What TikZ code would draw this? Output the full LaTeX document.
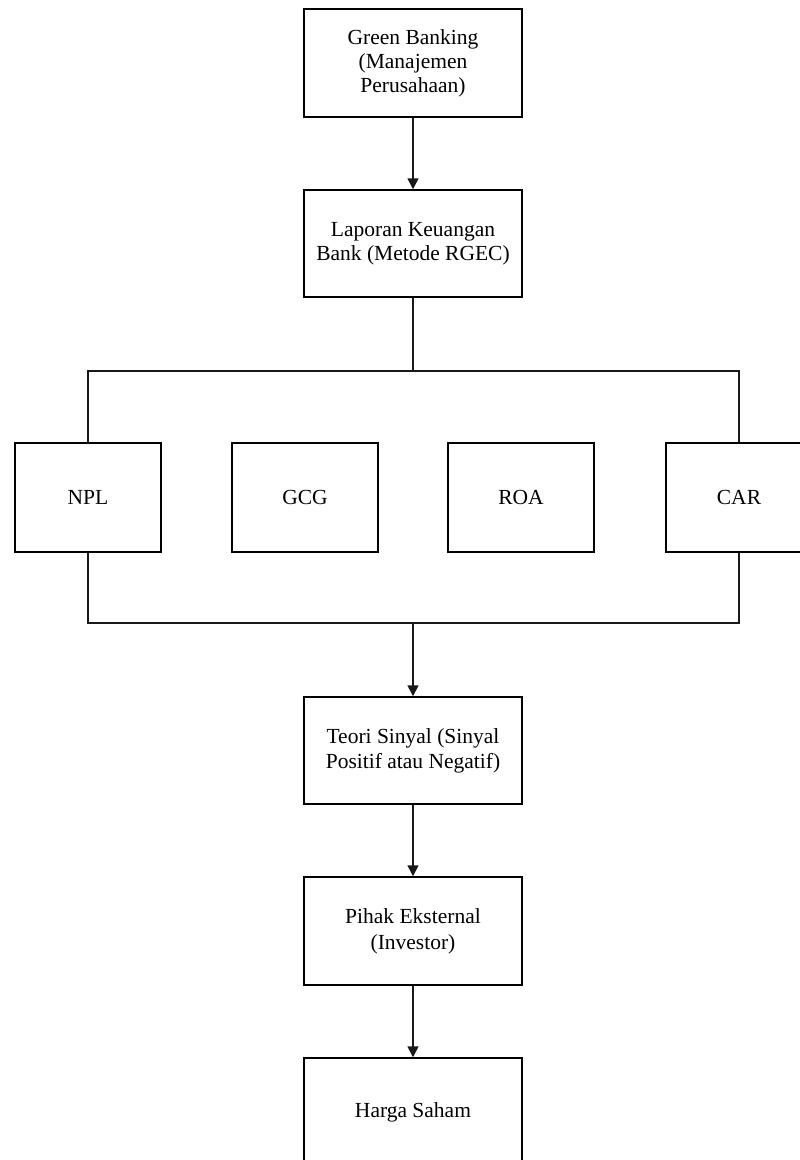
\documentclass[tikz,border=0pt]{standalone}
\usepackage{fontspec}
\setmainfont{Liberation Serif}
\usetikzlibrary{arrows.meta}
\tikzset{
  box/.style={draw=black, line width=1.5pt, fill=white, inner sep=0pt, align=center,
    font=\fontsize{21.5}{24}\selectfont, minimum width=218pt, minimum height=107pt},
  smallbox/.style={box, minimum width=146pt, minimum height=109pt},
  link/.style={draw=black!90, line width=1.6pt},
  arrowlink/.style={link, -{Triangle[width=11pt,length=11pt]}},
}
\begin{document}
\begin{tikzpicture}[x=1pt,y=-1pt]
\clip (0,0) rectangle (800,1160);
\fill[white] (0,0) rectangle (800,1160);
\node[box, minimum height=108pt] (green) at (413,63) {Green Banking\\(Manajemen\\Perusahaan)};
\node[box] (lap) at (413,243.5) {Laporan Keuangan\\Bank (Metode RGEC)};
\node[smallbox] (npl) at (88,497.5) {NPL};
\node[smallbox] (gcg) at (305,497.5) {GCG};
\node[smallbox] (roa) at (521,497.5) {ROA};
\node[smallbox] (car) at (739,497.5) {CAR};
\node[box, font=\fontsize{21.5}{25}\selectfont] (teori) at (413,750.5) {Teori Sinyal (Sinyal\\Positif atau Negatif)};
\node[box, minimum height=108pt, font=\fontsize{21.5}{26}\selectfont] (pihak) at (413,931) {Pihak Eksternal\\(Investor)};
\node[box, minimum height=108pt] (harga) at (413,1112) {Harga Saham};
\coordinate (ytop) at (0,371);
\coordinate (ybot) at (0,623);
\draw[arrowlink] (green.south) -- (lap.north);
\draw[link] (lap.south) -- (lap.south |- ytop);
\draw[link] (npl.north) -- (npl.north |- ytop) -- (car.north |- ytop) -- (car.north);
\draw[link] (npl.south) -- (npl.south |- ybot) -- (car.south |- ybot) -- (car.south);
\draw[arrowlink] (teori.north |- ybot) -- (teori.north);
\draw[arrowlink] (teori.south) -- (pihak.north);
\draw[arrowlink] (pihak.south) -- (harga.north);
\end{tikzpicture}
\end{document}
